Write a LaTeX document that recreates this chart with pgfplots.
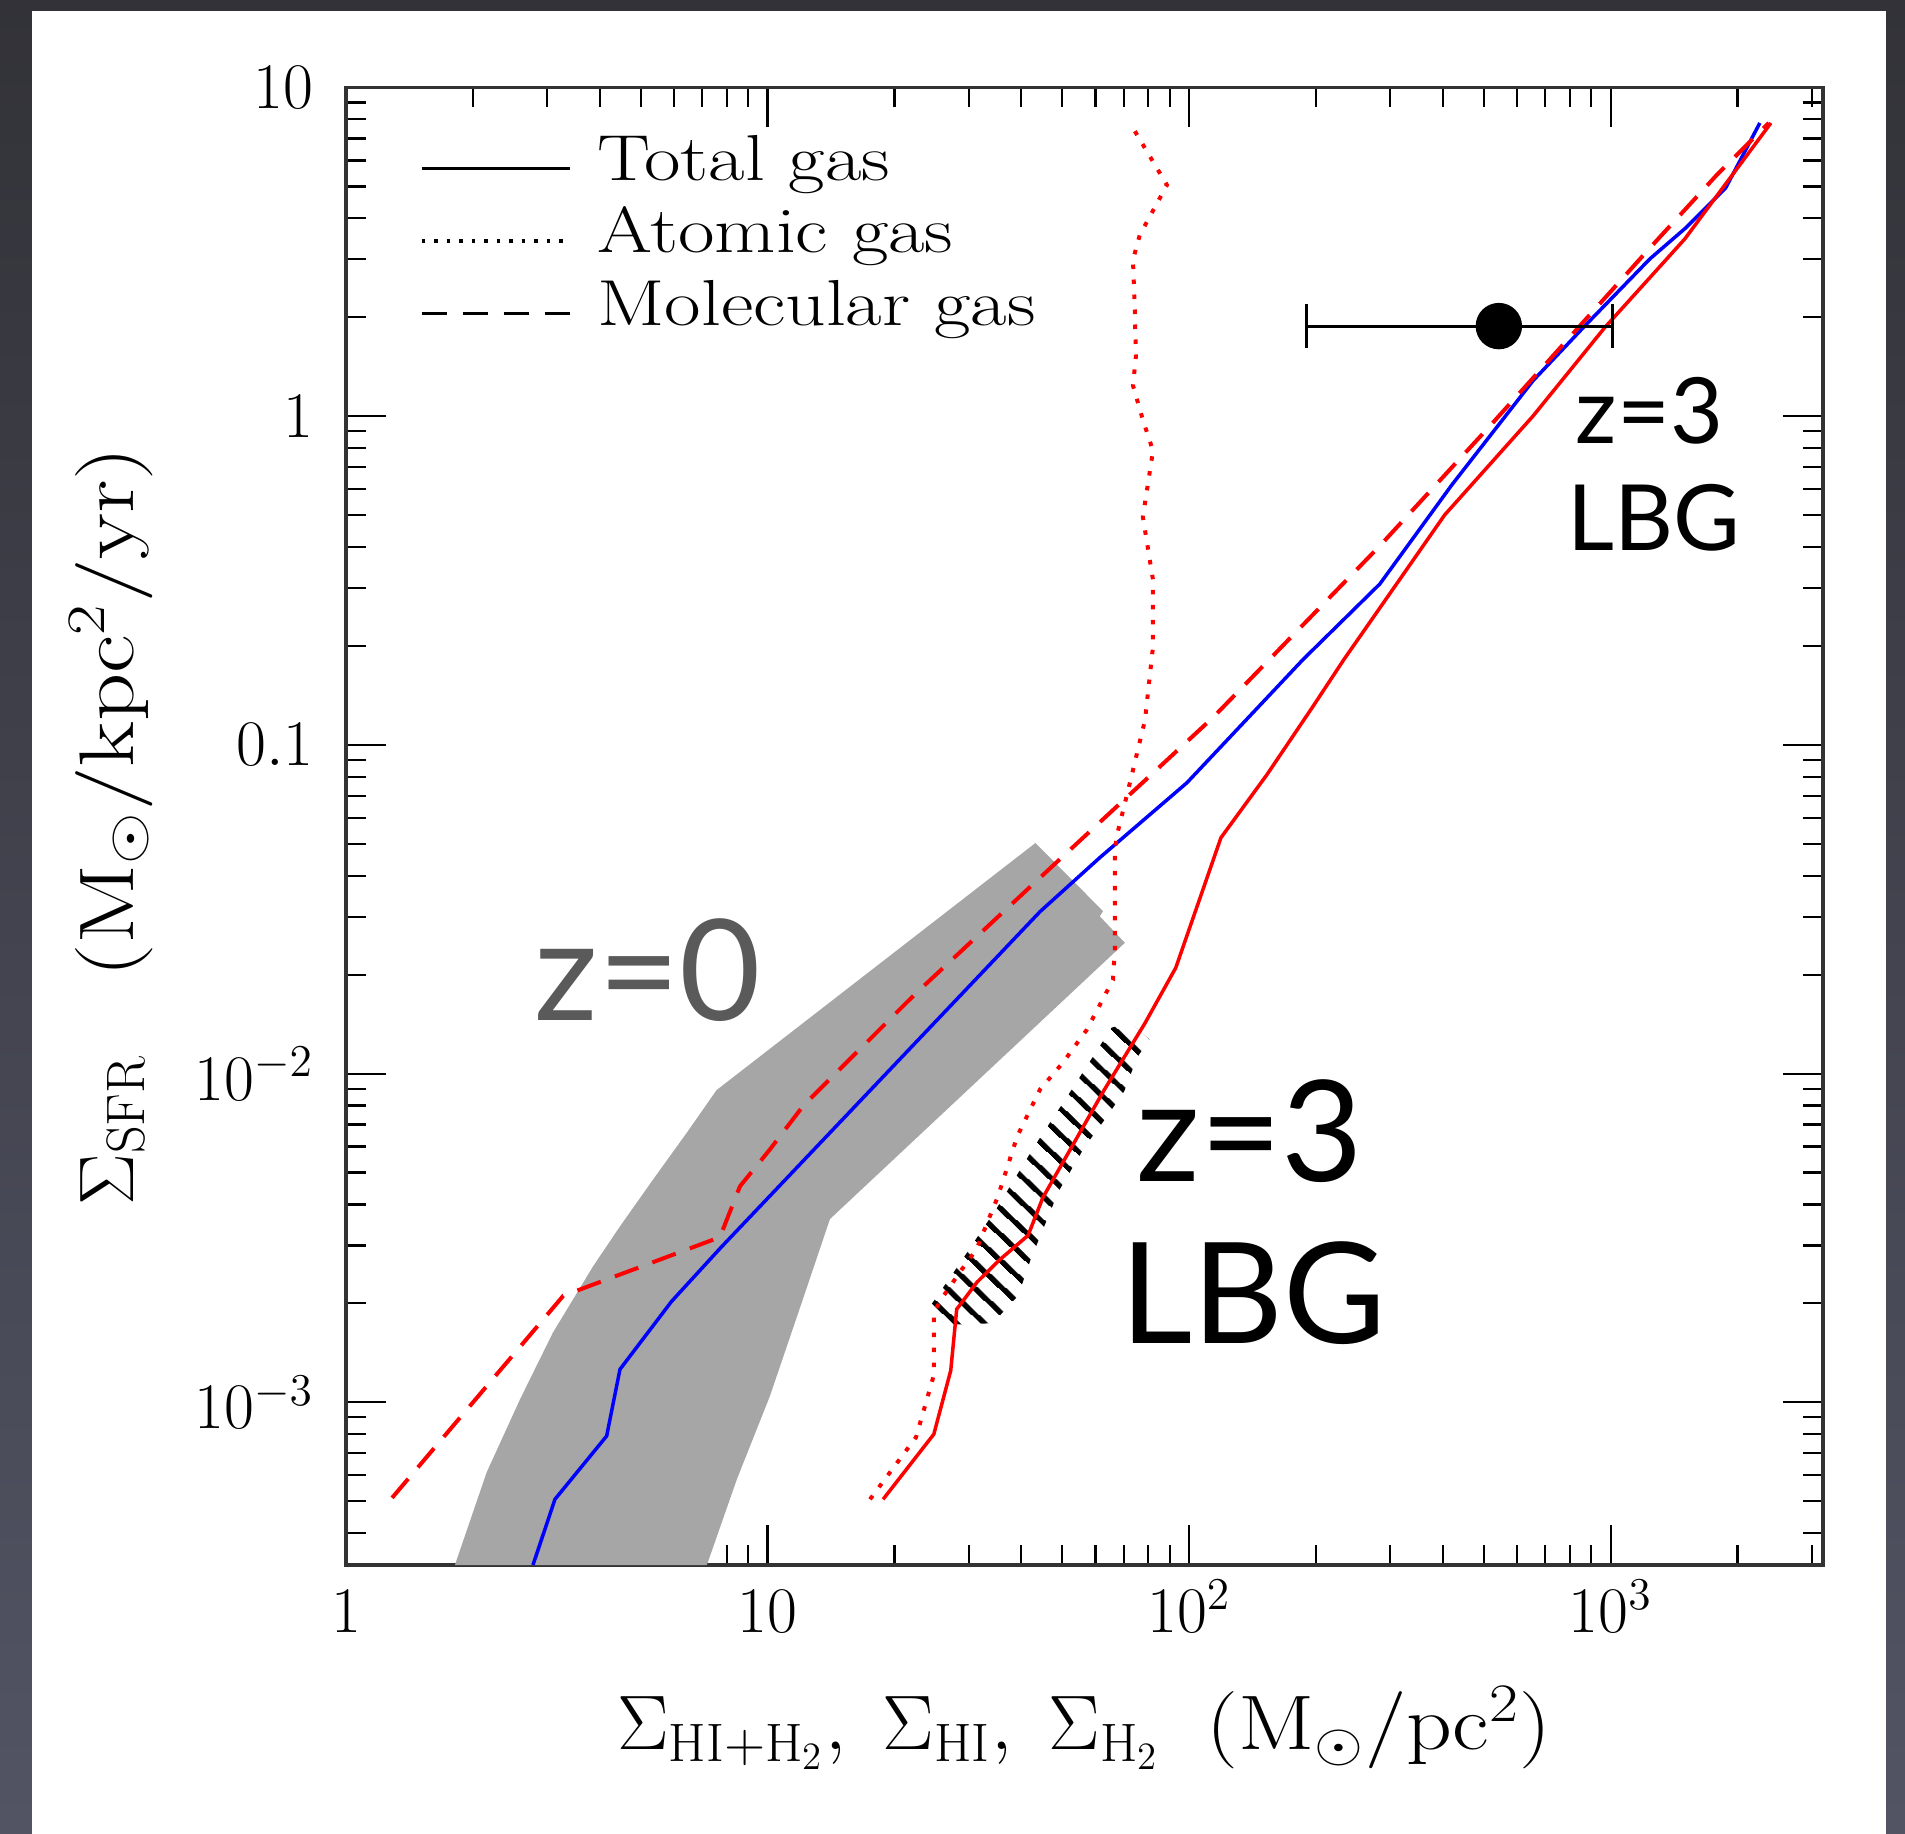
\RequirePackage{fix-cm}
\documentclass[border=0pt]{standalone}
\usepackage{fontspec}
\newfontfamily\gill{Lato}
\usepackage{graphicx}
\usepackage{pgfplots}
\pgfplotsset{compat=1.18}
\usetikzlibrary{patterns.meta}

\definecolor{bandgray}{RGB}{166,166,166}
\definecolor{zgray}{RGB}{90,90,90}
\definecolor{bgtop}{RGB}{50,50,56}
\definecolor{bgbot}{RGB}{82,84,100}

\newcommand{\lbl}{\fontsize{18.5}{22}\selectfont}
\newcommand{\wide}[1]{\scalebox{1.22}[1]{#1}}

\begin{document}
\begin{tikzpicture}
\useasboundingbox (0,0) rectangle (190.5mm,183.4mm);
\shade[top color=bgtop, bottom color=bgbot] (0,0) rectangle (190.5mm,183.4mm);
\fill[white] (3.2mm,0) rectangle (188.6mm,182.3mm);

\begin{axis}[
  at={(34.6mm,26.9mm)}, anchor=south west,
  scale only axis, width=147.7mm, height=147.75mm,
  xmode=log, ymode=log,
  xmin=1, xmax=3190, ymin=3.2e-4, ymax=10,
  xtick={1,10,100,1000},
  xticklabels={$1$,$10$,$10^2$,$10^3$},
  ytick={1e-3,1e-2,0.1,1,10},
  yticklabels={$10^{-3}$,$10^{-2}$,$0.1$,$1$,$10$},
  minor xtick={2,3,4,5,6,7,8,9,20,30,40,50,60,70,80,90,200,300,400,500,600,700,800,900,2000,3000},
  minor ytick={4e-4,5e-4,6e-4,7e-4,8e-4,9e-4,2e-3,3e-3,4e-3,5e-3,6e-3,7e-3,8e-3,9e-3,0.02,0.03,0.04,0.05,0.06,0.07,0.08,0.09,0.2,0.3,0.4,0.5,0.6,0.7,0.8,0.9,2,3,4,5,6,7,8,9},
  tick align=inside, major tick length=4mm, minor tick length=2mm,
  tick style={black, line width=0.22mm},
  axis line style={black!80, line width=0.35mm},
  tick label style={font=\lbl},
  xticklabel style={text height=4.4mm, yshift=-1.15mm},
  yticklabel style={xshift=-2mm},
  every axis x label/.style={at={(axis description cs:0.5,-0.1252)}, anchor=base, font=\fontsize{22}{26}\selectfont},
  every axis y label/.style={at={(axis description cs:-0.1442,0.5)}, anchor=base, rotate=90, font=\fontsize{22}{26}\selectfont},
  xlabel={$\Sigma_{\mathrm{HI{+}H_2}},\ \Sigma_{\mathrm{HI}},\ \Sigma_{\mathrm{H_2}}$\ \ \scalebox{1.16}[1]{$(\mathrm{M_\odot/pc^2})$}},
  ylabel={$\Sigma_{\mathrm{SFR}}$\quad\scalebox{1.22}[1]{$(\mathrm{M_\odot/kpc^2/yr})$}},
  legend style={at={(axis description cs:0.0501,0.9696)}, anchor=north west,
    draw=none, fill=none, inner sep=0pt, outer sep=0pt, row sep=0pt, column sep=2.6mm,
    font=\lbl, nodes={inner sep=0pt, text height=4.8mm, text depth=2.45mm}},
  legend cell align=left,
  legend image code/.code={\draw[#1] (0mm,0mm) -- (14.8mm,0mm);},
]

% observed z=0 range
\addplot[fill=bandgray, draw=none, forget plot] coordinates {
  (1.813,3.2e-4) (2.157,6.13e-4) (2.586,1.02e-3) (3.097,1.63e-3) (3.855,2.59e-3)
  (4.467,3.43e-3) (5.35,4.76e-3) (6.44,6.62e-3) (7.57,8.91e-3) (43.2,0.0503)
  (62.5,0.0312) (61.4,0.0301) (70.4,0.0250) (14.06,3.61e-3) (12.13,2.06e-3)
  (10.13,1.045e-3) (8.46,5.84e-4) (7.18,3.2e-4)
} -- cycle;

% LBG constraint (hatched)
\addplot[draw=none, pattern={Lines[angle=-43, distance=1.9mm, line width=0.55mm]}, pattern color=black, forget plot] coordinates {
  (24.3,1.96e-3) (28.6,2.65e-3) (35.2,3.95e-3) (43.0,6.02e-3) (53.0,9.05e-3)
  (65.5,0.0138) (72.4,0.0143) (80.5,0.0127) (75.3,0.0112) (70.2,8.85e-3)
  (63.5,7.33e-3) (56.6,6.00e-3) (49.0,4.38e-3) (42.0,2.70e-3) (39.3,2.11e-3)
  (34.2,1.74e-3) (26.1,1.72e-3)
} -- cycle;

% z=0 total gas
\addplot[blue, line width=0.35mm, forget plot] coordinates {
  (2.777,3.2e-4) (3.131,5.07e-4) (4.153,7.90e-4) (4.466,1.26e-3) (5.924,2.03e-3)
  (7.755,2.96e-3) (44.3,0.0311) (61.4,0.0454) (98.8,0.0767) (186.2,0.1817)
  (283.6,0.309) (420,0.618) (654,1.281) (878,1.91) (1239,3.01) (1507,3.74)
  (1875,4.95) (2259,7.80)
};

% z=0 molecular gas
\addplot[red, line width=0.4mm, dash pattern=on 2.5mm off 1.5mm, forget plot] coordinates {
  (1.286,5.12e-4) (3.277,2.11e-3) (7.71,3.18e-3) (8.60,4.54e-3) (10.13,5.88e-3)
  (12.17,8.00e-3) (22.46,0.01753) (49.0,0.0445) (114.1,0.1214) (283.6,0.4036)
  (522.7,0.948) (1239,3.25) (1786,5.42) (2373,7.80)
};

% z=3 total gas
\addplot[red, line width=0.35mm, forget plot] coordinates {
  (18.8,5.07e-4) (24.8,8.0e-4) (27.2,1.25e-3) (28.1,1.92e-3) (31.4,2.32e-3)
  (35.6,2.72e-3) (41.5,3.22e-3) (45.0,4.20e-3) (62.8,8.89e-3) (78.5,0.0142)
  (93.0,0.0210) (119,0.0522) (153,0.0812) (196,0.130) (233,0.182) (404,0.501)
  (654,1.00) (968,1.86) (1499,3.46) (2400,7.80)
};

% z=3 atomic gas
\addplot[red, line width=0.4mm, dash pattern=on 0.45mm off 1.05mm, forget plot] coordinates {
  (17.5,5.07e-4) (22.5,7.83e-4) (24.8,1.21e-3) (24.8,1.88e-3) (26.1,2.10e-3)
  (28.6,2.49e-3) (31.3,2.92e-3) (35.2,4.23e-3) (39.1,6.44e-3) (44.3,8.95e-3)
  (50.2,0.0108) (57.2,0.0136) (66.0,0.0193) (66.7,0.0242) (66.7,0.0477)
  (67.4,0.0530) (72.4,0.0768) (78.6,0.119) (82.1,0.199) (82.1,0.318)
  (77.7,0.494) (82.1,0.785) (77.7,0.975) (73.6,1.24) (74.8,1.52) (74.3,2.14)
  (73.6,2.99) (76.4,3.56) (88.6,5.05) (72.4,7.80)
};

% LBG data point: x range 190--1011, caps and filled marker
\addplot[black, line width=0.3mm, forget plot] coordinates {(190,1.88) (1011,1.88)};
\addplot[black, line width=0.3mm, forget plot] coordinates {(190,1.612) (190,2.192)};
\addplot[black, line width=0.3mm, forget plot] coordinates {(1011,1.612) (1011,2.192)};
\addplot[black, only marks, mark=*, mark size=2.25mm, forget plot] coordinates {(543,1.88)};

\addlegendimage{black, line width=0.35mm}
\addlegendentry{\wide{Total gas}}
\addlegendimage{black, line width=0.35mm, dash pattern=on 0.35mm off 0.9mm}
\addlegendentry{\wide{Atomic gas}}
\addlegendimage{black, line width=0.35mm, dash pattern=on 2.5mm off 1.6mm}
\addlegendentry{\wide{Molecular gas}}

\node[font=\gill\fontsize{40}{44}\selectfont, text=zgray, inner sep=0pt] at (axis cs:5.20,0.0206) {z=0};
\node[font=\gill\fontsize{40}{44}\selectfont, inner sep=0pt] at (axis cs:139.4,6.7e-3) {z=3};
\node[font=\gill\fontsize{40}{44}\selectfont, inner sep=0pt] at (axis cs:141.7,2.15e-3) {LBG};
\node[font=\gill\fontsize{26}{30}\selectfont, inner sep=0pt] at (axis cs:1236,1.039) {z=3};
\node[font=\gill\fontsize{26}{30}\selectfont, inner sep=0pt] at (axis cs:1266,0.491) {LBG};
\end{axis}
\end{tikzpicture}
\end{document}
